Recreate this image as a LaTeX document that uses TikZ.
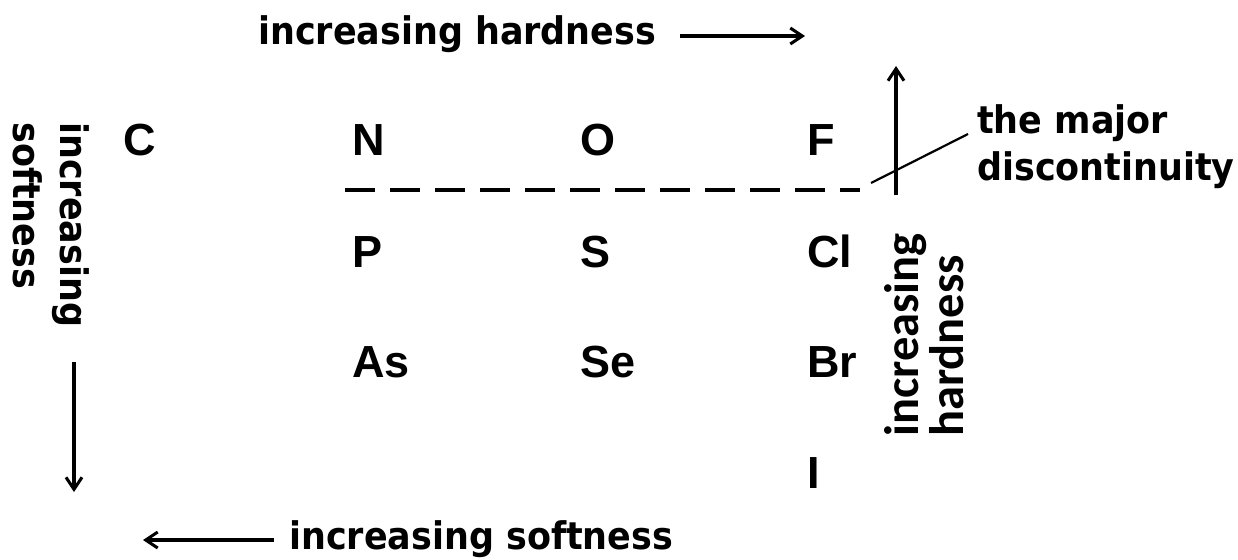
\documentclass[tikz,border=0pt]{standalone}
\usepackage{fontspec}
\newfontfamily\elemfont{Liberation Sans}
\newfontfamily\labfont{DejaVu Sans}[FakeStretch=0.92]
\newfontfamily\calfont{Carlito}
\usetikzlibrary{arrows.meta}
\tikzset{
  elem/.style={anchor=base west, inner sep=0pt, font=\elemfont\bfseries\fontsize{45}{50}\selectfont},
  lab/.style={inner sep=0pt, font=\labfont\bfseries\fontsize{38}{47}\selectfont},
  sidelab/.style={inner sep=0pt, align=left, font=\calfont\bfseries\fontsize{48.5}{45}\selectfont},
  trendarrow/.style={line width=3.2pt, -{Straight Barb[length=12pt,width=16pt,line width=3pt]}},
  gap/.style={line width=4pt, dash pattern=on 30pt off 15pt},
  leader/.style={line width=2.2pt}
}
\begin{document}
\begin{tikzpicture}[x=1pt,y=-1pt]
\path[use as bounding box] (0,0) rectangle (1238,559);

% element symbols
\node[elem] (C)  at (123,155) {C};
\node[elem] (N)  at (352,155) {N};
\node[elem] (O)  at (580,155) {O};
\node[elem] (F)  at (807,155) {F};
\node[elem] (P)  at (352,267) {P};
\node[elem] (S)  at (580,267) {S};
\node[elem] (Cl) at (807,267) {Cl};
\node[elem] (As) at (352,377) {As};
\node[elem] (Se) at (580,377) {Se};
\node[elem] (Br) at (807,377) {Br};
\node[elem] (I)  at (807,488) {I};

% horizontal trend labels
\node[lab, anchor=base west] (hardtop) at (258,45) {increasing hardness};
\node[lab, anchor=base west] (softbot) at (289,549) {increasing softness};
\coordinate (ha1) at (680,36);
\coordinate (ha2) at (805,36);
\draw[trendarrow] (ha1) -- (ha2);
\coordinate (sa1) at (274,540);
\coordinate (sa2) at (143,540);
\draw[trendarrow] (sa1) -- (sa2);

% vertical trend labels
\node[lab, align=left, rotate=-90, anchor=north west] (softleft) at (90,122) {increasing\\softness};
\coordinate (va1) at (74,362);
\coordinate (va2) at (74,492);
\draw[trendarrow] (va1) -- (va2);

\node[sidelab, rotate=90, anchor=north west] (hardright) at (884,437) {increasing\\hardness};
\coordinate (ua1) at (896,195);
\coordinate (ua2) at (896,66);
\draw[trendarrow] (ua1) -- (ua2);

% the discontinuity between period 2 and period 3
\coordinate (d1) at (345,190);
\coordinate (d2) at (860,190);
\draw[gap] (d1) -- (d2);
\node[lab, align=left, anchor=north west] (disc) at (977,104) {the major\\discontinuity};
\coordinate (l1) at (871,183);
\coordinate (l2) at (968,134);
\draw[leader] (l1) -- (l2);
\end{tikzpicture}
\end{document}
